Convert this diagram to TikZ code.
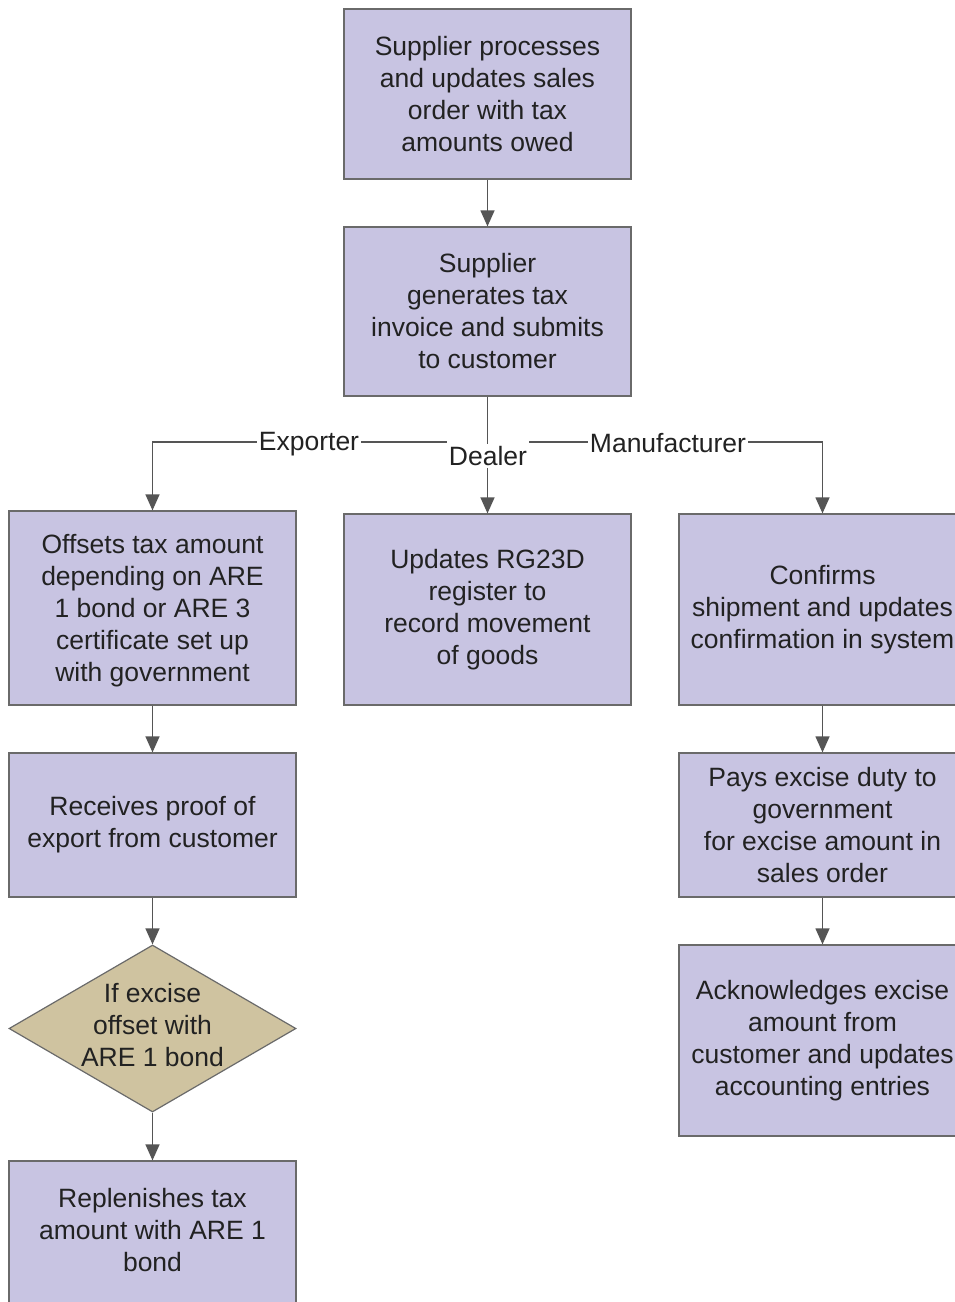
\documentclass[tikz,border=0pt]{standalone}
\usepackage{fontspec}
\setmainfont{Liberation Sans}
\usetikzlibrary{arrows.meta,shapes.geometric}
\definecolor{boxfill}{HTML}{C8C4E2}
\definecolor{boxline}{HTML}{6A6A6A}
\definecolor{dfill}{HTML}{CFC3A0}
\definecolor{lnc}{HTML}{555555}
\definecolor{txt}{HTML}{222222}
\tikzset{
  procbox/.style={draw=boxline,fill=boxfill,line width=1.2pt,minimum width=287pt,inner sep=0pt,align=center,text=txt,font=\fontsize{26.5}{32}\selectfont},
  decis/.style={diamond,draw=boxline,fill=dfill,line width=1.2pt,minimum width=287pt,minimum height=167pt,aspect=1.72,inner sep=0pt},
  plaintxt/.style={text=txt,align=center,inner sep=0pt,font=\fontsize{26.5}{32}\selectfont},
  lbl/.style={text=txt,inner sep=2pt,font=\fontsize{26.5}{32}\selectfont},
  conn/.style={draw=lnc,line width=1.2pt},
  arr/.style={conn,-{Triangle[width=14pt,length=16pt]}}
}
\begin{document}
\begin{tikzpicture}[x=1pt,y=-1pt]
\useasboundingbox (0,0) rectangle (955,1302);
\clip (0,0) rectangle (955,1302);
\fill[white] (0,0) rectangle (955,1302);
\node[procbox,minimum height=170pt] (b1) at (487.5,94) {Supplier processes\\and updates sales\\order with tax\\amounts owed};
\node[procbox,minimum height=169pt] (b2) at (487.5,311.5) {Supplier\\generates tax\\invoice and submits\\to customer};
\node[procbox,minimum height=194pt] (l1) at (152.5,608) {};
\node[plaintxt] (l1t) at (152.5,611) {Offsets tax amount\\depending on ARE\\1 bond or ARE 3\\certificate set up\\with government};
\node[procbox,minimum height=191pt] (m1) at (487.5,609.5) {Updates RG23D\\register to\\record movement\\of goods};
\node[procbox,minimum height=191pt] (r1) at (822.5,609.5) {Confirms\\shipment and updates\\confirmation in system};
\node[procbox,minimum height=144pt] (l2) at (152.5,825) {Receives proof of\\export from customer};
\node[decis] (d1) at (152.5,1028.5) {};
\node[plaintxt] (d1t) at (152.5,1025) {If excise\\offset with\\ARE 1 bond};
\node[procbox,minimum height=170pt] (l3) at (152.5,1246) {};
\node[plaintxt] (l3t) at (152.5,1230) {Replenishes tax\\amount with ARE 1\\bond};
\node[procbox,minimum height=144pt] (r2) at (822.5,825) {Pays excise duty to\\government\\for excise amount in\\sales order};
\node[procbox,minimum height=191pt] (r3) at (822.5,1040.5) {Acknowledges excise\\amount from\\customer and updates\\accounting entries};
\coordinate (J) at (487.5,442);
\node[lbl] (ex) at (309,444) {Exporter};
\node[lbl] (de) at (488,456) {Dealer};
\node[lbl] (mf) at (668,443.5) {Manufacturer};
\coordinate (LJ) at (152.5,442);
\coordinate (RJ) at (822.5,442);
\draw[arr] (b1) -- (b2);
\draw[conn] (b2.south) -- (b2.south |- de.north);
\draw[arr] (m1.north |- de.south) -- (m1.north);
\draw[arr] (ex.west |- J) -- (LJ) -- (l1.north);
\draw[conn] (ex.east |- J) -- (de.west |- J);
\draw[conn] (de.east |- J) -- (mf.west |- J);
\draw[arr] (mf.east |- J) -- (RJ) -- (r1.north);
\draw[arr] (l1) -- (l2);
\draw[arr] (l2) -- (d1);
\draw[arr] (d1) -- (l3);
\draw[arr] (r1) -- (r2);
\draw[arr] (r2) -- (r3);
\end{tikzpicture}
\end{document}
